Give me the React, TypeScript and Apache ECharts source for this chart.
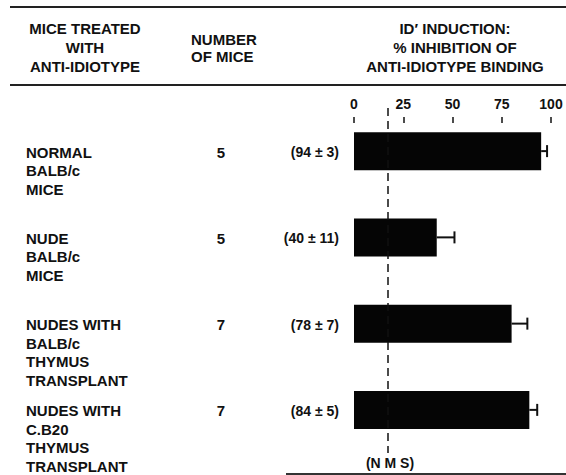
import React, { useEffect, useRef } from "react";
import * as echarts from "echarts";

// ---- data ----
const groupLabels: string[][] = [
  ["NORMAL", "BALB/c", "MICE"],
  ["NUDE", "BALB/c", "MICE"],
  ["NUDES WITH", "BALB/c", "THYMUS", "TRANSPLANT"],
  ["NUDES WITH", "C.B20", "THYMUS", "TRANSPLANT"],
];
const categories = ["normal", "nude", "nudeBalb", "nudeCB20"];
const miceCounts = [5, 5, 7, 7];
const meanLabels = ["(94 \u00b1 3)", "(40 \u00b1 11)", "(78 \u00b1 7)", "(84 \u00b1 5)"];
const inhibition = [95, 42, 80, 89];
const errors = [3, 9, 8, 4];
const nmsLevel = 17;
const headerLeft = ["MICE TREATED", "WITH", "ANTI-IDIOTYPE"];
const headerMid = ["NUMBER", "OF MICE"];
const headerRight = ["ID\u2032 INDUCTION:", "% INHIBITION OF", "ANTI-IDIOTYPE BINDING"];
const nmsLabel = "(N M S)";

const W = 566;
const H = 475;
const FAMILY = "'Liberation Sans', Arial, sans-serif";
const FONT = `bold 15px ${FAMILY}`;
const FONT_SM = `bold 14px ${FAMILY}`;

export default function App() {
  const ref = useRef<HTMLDivElement>(null);
  useEffect(() => {
    if (!ref.current) return;
    const chart = echarts.init(ref.current, null, { renderer: "svg" });
    const gridTop = 108;
    const gridBottom = 22;
    const gridLeft = 354;
    const gridRight = 15;
    const band = (H - gridTop - gridBottom) / categories.length;

    const graphics: any[] = [];
    const txt = (text: string, x: number, y: number, align: string, font = FONT) =>
      graphics.push({
        type: "text",
        x,
        y,
        silent: true,
        style: { text, font, fill: "#111", textAlign: align, textVerticalAlign: "middle" },
      });
    const hline = (x1: number, x2: number, y: number, w = 2, c = "#222") =>
      graphics.push({
        type: "line",
        silent: true,
        shape: { x1, y1: y, x2, y2: y },
        style: { stroke: c, lineWidth: w },
      });

    hline(10, W, 7);
    hline(10, W, 85);
    hline(286, W, 474, 2, "#333");

    headerLeft.forEach((t, i) => txt(t, 85, 28 + i * 19, "center"));
    headerMid.forEach((t, i) => txt(t, 191, 39 + i * 17, "left"));
    headerRight.forEach((t, i) => txt(t, 455, 28 + i * 19, "center"));

    groupLabels.forEach((lines, gi) => {
      const cy = gridTop + band * (gi + 0.5) + 1;
      lines.forEach((t, li) => txt(t, 26, cy + li * 18.5, "left"));
      txt(String(miceCounts[gi]), 221, cy, "center");
      txt(meanLabels[gi], 339, cy, "right", FONT_SM);
    });
    txt(nmsLabel, 390, 463, "center", FONT_SM);

    chart.setOption({
      animation: false,
      grid: { left: gridLeft, right: gridRight, top: gridTop, bottom: gridBottom },
      xAxis: {
        type: "value",
        position: "top",
        min: 0,
        max: 100,
        interval: 25,
        offset: -9,
        axisLine: { show: false },
        axisTick: { show: true, inside: true, length: 6, lineStyle: { color: "#111", width: 1.5 } },
        axisLabel: { margin: 6, color: "#111", fontSize: 14, fontWeight: "bold", fontFamily: FAMILY },
        splitLine: { show: false },
      },
      yAxis: {
        type: "category",
        data: categories,
        inverse: true,
        show: false,
      },
      graphic: graphics,
      series: [
        {
          type: "bar",
          data: inhibition,
          barWidth: 38,
          itemStyle: { color: "#050505" },
          markLine: {
            silent: true,
            symbol: "none",
            label: { show: false },
            lineStyle: { color: "#111", type: [8, 5], width: 1.5 },
            data: [{ xAxis: nmsLevel }],
          },
        },
        {
          type: "custom",
          data: inhibition.map((v, i) => [v, i, errors[i]]),
          renderItem: (params: any, api: any) => {
            const v = api.value(0);
            const i = api.value(1);
            const e = api.value(2);
            const p0 = api.coord([v, i]);
            const p1 = api.coord([v + e, i]);
            const style = { stroke: "#111", lineWidth: 2 };
            return {
              type: "group",
              children: [
                { type: "line", shape: { x1: p0[0], y1: p0[1], x2: p1[0], y2: p1[1] }, style },
                { type: "line", shape: { x1: p1[0], y1: p1[1] - 6, x2: p1[0], y2: p1[1] + 6 }, style },
              ],
            };
          },
          z: 3,
        },
      ],
    });
    return () => chart.dispose();
  }, []);
  return <div ref={ref} style={{ position: "fixed", left: 0, top: 0, width: W, height: H, background: "#fff" }} />;
}
